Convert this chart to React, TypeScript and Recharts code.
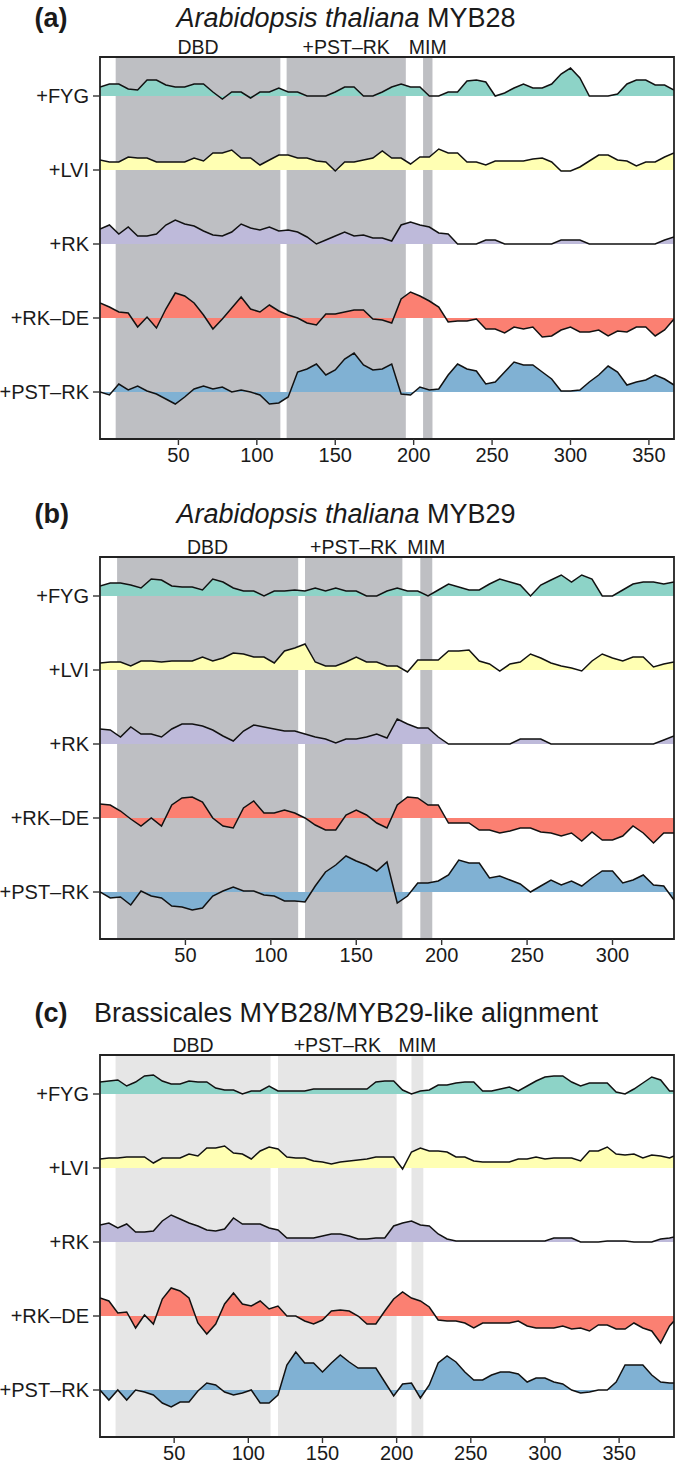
import { ComposedChart, Area, Line, XAxis, YAxis, ReferenceArea } from "recharts";

const FONT = '"Liberation Sans", Arial, Helvetica, sans-serif';
const TEXT = "#1a1a1a";

const TRACKS = ["+FYG", "+LVI", "+RK", "+RK–DE", "+PST–RK"];
const TRACK_COLORS = ["#8DD3C7", "#FFFFB3", "#BEBADA", "#FB8072", "#80B1D3"];
const TRACK_GAP = 74;
const BASELINES = [0, 74, 148, 222, 296];
const Y_DOMAIN: [number, number] = [-47, 335];

// (a) Arabidopsis thaliana MYB28
const POS_A = [0, 6, 12, 18, 24, 30, 36, 42, 48, 54, 60, 66, 72, 78, 84, 90, 96, 102, 108, 114, 120, 126, 132, 138, 144, 150, 156, 162, 168, 174, 180, 186, 192, 198, 204, 210, 216, 222, 228, 234, 240, 246, 252, 258, 264, 270, 276, 282, 288, 294, 300, 306, 312, 318, 324, 330, 336, 342, 348, 354, 360, 366];
const FYG_A = [9, 12, 12, 7, 6, 16, 16, 11, 9, 9, 12, 12, 4, -3, 4, 4, -2, 4, 4, 8, 4, 4, 0, 0, 0, 4, 9, 9, 0, 0, 4, 9, 12, 9, 9, 0, 0, 4, 4, 15, 16, 14, 0, 3, 8, 12, 8, 8, 12, 22, 28, 18, 0, 0, 0, 2, 12, 16, 16, 11, 11, 6];
const LVI_A = [10, 8, 8, 13, 12, 12, 8, 8, 8, 8, 12, 9, 17, 17, 20, 12, 12, 5, 10, 15, 15, 12, 12, 9, 8, -1, 8, 8, 10, 12, 19, 12, 12, 6, 13, 13, 21, 17, 17, 8, 8, 5, 9, 9, 9, 9, 11, 12, 8, -1, -1, 3, 9, 15, 15, 10, 9, 4, 8, 8, 13, 17];
const RK_A = [15, 19, 10, 17, 8, 8, 10, 19, 24, 20, 18, 13, 9, 8, 12, 20, 16, 14, 17, 13, 14, 12, 7, 0, 4, 8, 12, 8, 9, 6, 6, 3, 19, 22, 19, 17, 11, 10, 0, 0, 0, 4, 4, 0, 0, 0, 0, 0, 0, 4, 4, 4, 0, 0, 0, 0, 0, 0, 0, 0, 4, 7];
const RKDE_A = [15, 11, 6, 5, -9, 1, -10, 9, 25, 22, 15, 3, -11, -1, 10, 21, 9, 6, 13, 7, 3, 0, -5, -7, 4, 4, 6, 8, 8, -1, -2, -5, 19, 26, 22, 17, 11, -4, -3, -3, -1, -11, -11, -15, -9, -11, -9, -19, -18, -12, -9, -14, -14, -12, -18, -13, -14, -9, -9, -18, -12, -1];
const PST_A = [0, -3, 8, 2, 6, 1, -2, -7, -12, -5, 3, 6, 3, 5, 0, 2, 0, -3, -12, -11, -5, 20, 23, 28, 17, 22, 33, 39, 27, 22, 23, 28, -2, -3, 5, 2, 3, 17, 28, 23, 21, 8, 10, 20, 30, 27, 27, 20, 13, 1, 1, 2, 10, 17, 26, 20, 7, 10, 12, 17, 13, 7];
const TICKS_A = [50, 100, 150, 200, 250, 300, 350];
const REGIONS_A = [
  { name: "DBD", from: 10, to: 115 },
  { name: "+PST–RK", from: 119, to: 195 },
  { name: "MIM", from: 206, to: 212 },
];

// (b) Arabidopsis thaliana MYB29
const POS_B = [0, 6, 12, 18, 24, 30, 36, 42, 48, 54, 60, 66, 72, 78, 84, 90, 96, 102, 108, 114, 120, 126, 132, 138, 144, 150, 156, 162, 168, 174, 180, 186, 192, 198, 204, 210, 216, 222, 228, 234, 240, 246, 252, 258, 264, 270, 276, 282, 288, 294, 300, 306, 312, 318, 324, 330, 336];
const FYG_B = [10, 13, 13, 11, 8, 17, 16, 10, 9, 9, 6, 17, 14, 8, 5, 5, 0, 5, 5, 6, 5, 8, 5, 8, 5, 5, 0, 0, 5, 8, 5, 5, 0, 6, 12, 9, 6, 6, 12, 17, 14, 11, 0, 11, 16, 21, 14, 21, 17, 0, 0, 6, 12, 14, 14, 12, 14];
const LVI_B = [7, 8, 8, 4, 9, 9, 8, 9, 9, 9, 13, 9, 12, 17, 16, 13, 13, 7, 19, 22, 26, 8, 4, 4, 8, 13, 8, 8, 4, 4, -2, 10, 10, 10, 19, 19, 20, 9, 6, -1, 6, 8, 16, 12, 7, 4, 2, -1, 9, 16, 12, 9, 13, 13, 3, 6, 8];
const RK_B = [15, 14, 7, 17, 10, 10, 7, 15, 20, 20, 18, 14, 8, 3, 13, 19, 17, 15, 13, 13, 10, 7, 5, 1, 5, 5, 7, 10, 6, 25, 20, 16, 16, 7, 0, 0, 0, 0, 0, 0, 0, 5, 5, 5, 0, 0, 0, 0, 0, 0, 0, 0, 0, 0, 0, 4, 8];
const RKDE_B = [14, 13, 7, -1, -8, 0, -8, 13, 20, 21, 16, 0, -8, -10, 10, 17, 5, 5, 8, 5, 0, -7, -12, -12, 3, 8, 3, -5, -10, 13, 21, 20, 13, 13, -5, -5, -5, -12, -12, -15, -13, -10, -10, -14, -15, -18, -15, -23, -14, -22, -22, -18, -8, -15, -25, -15, -15];
const PST_B = [0, -6, -5, -13, 1, -4, -6, -14, -15, -18, -16, -4, 1, 5, 1, 1, -3, -4, -9, -9, -10, 6, 20, 27, 36, 31, 27, 21, 30, -11, -4, 9, 9, 11, 17, 32, 29, 29, 14, 16, 12, 8, 0, 6, 12, 7, 11, 6, 14, 21, 21, 9, 12, 17, 7, 6, -8];
const TICKS_B = [50, 100, 150, 200, 250, 300];
const REGIONS_B = [
  { name: "DBD", from: 10, to: 116 },
  { name: "+PST–RK", from: 120, to: 177 },
  { name: "MIM", from: 187.5, to: 194.5 },
];

// (c) Brassicales MYB28/MYB29-like alignment
const POS_C = [0, 6, 12, 18, 24, 30, 36, 42, 48, 54, 60, 66, 72, 78, 84, 90, 96, 102, 108, 114, 120, 126, 132, 138, 144, 150, 156, 162, 168, 174, 180, 186, 192, 198, 204, 210, 216, 222, 228, 234, 240, 246, 252, 258, 264, 270, 276, 282, 288, 294, 300, 306, 312, 318, 324, 330, 336, 342, 348, 354, 360, 366, 372, 378, 384, 387];
const FYG_C = [12, 13, 14, 8, 12, 18, 19, 13, 10, 10, 13, 12, 12, 6, 4, 4, 0, 3, 3, 8, 3, 3, 3, 3, 5, 5, 5, 5, 5, 5, 5, 12, 13, 13, 4, 0, 3, 4, 9, 9, 11, 12, 12, 3, 3, 5, 7, 3, 8, 13, 17, 18, 18, 12, 8, 11, 11, 11, 2, 0, 5, 11, 17, 14, 3, 3];
const LVI_C = [9, 10, 10, 11, 11, 11, 5, 10, 10, 10, 14, 12, 20, 20, 22, 15, 14, 9, 17, 21, 19, 11, 10, 10, 7, 6, 4, 6, 7, 8, 9, 11, 11, 11, -1, 16, 20, 17, 17, 16, 11, 11, 7, 6, 6, 6, 6, 9, 9, 11, 9, 10, 10, 10, 7, 17, 17, 21, 14, 13, 14, 10, 13, 12, 10, 12];
const RK_C = [17, 19, 14, 18, 10, 10, 11, 21, 27, 23, 19, 16, 12, 11, 13, 24, 18, 18, 18, 14, 12, 4, 4, 4, 4, 6, 8, 8, 6, 3, 3, 4, 4, 16, 19, 21, 17, 16, 8, 3, 1, 1, 1, 1, 1, 1, 1, 1, 1, 1, 1, 4, 4, 4, 0, 0, 0, 1, 1, 1, 0, 0, 0, 3, 4, 5];
const RKDE_C = [18, 15, 3, 4, -12, 1, -8, 17, 28, 25, 18, -7, -18, -8, 12, 23, 12, 10, 15, 7, 10, 0, 0, -5, -8, -4, 5, 6, 5, 0, -8, -8, 5, 17, 24, 18, 15, 9, -4, -5, -5, -7, -12, -7, -7, -7, -7, -5, -10, -12, -12, -12, -10, -13, -12, -15, -9, -9, -13, -13, -7, -12, -15, -27, -10, -5];
const PST_C = [0, -10, 0, -10, 0, -2, -5, -13, -17, -12, -12, -1, 7, 5, -2, -5, -3, 0, -13, -13, -5, 25, 38, 27, 27, 18, 27, 35, 28, 22, 22, 22, 8, -6, 6, 7, -8, 5, 27, 34, 28, 18, 10, 10, 15, 18, 18, 16, 8, 12, 12, 8, 6, 0, -3, -2, 0, 0, 8, 25, 25, 25, 15, 8, 7, 7];
const TICKS_C = [50, 100, 150, 200, 250, 300, 350];
const REGIONS_C = [
  { name: "DBD", from: 10.5, to: 115 },
  { name: "+PST–RK", from: 120, to: 200 },
  { name: "MIM", from: 210, to: 218 },
];

interface Region {
  name: string;
  from: number;
  to: number;
}

interface PanelProps {
  top: number;
  tag: string;
  titleItalic?: string;
  titleRest: string;
  titleBaseline: number;
  positions: number[];
  series: number[][];
  xMax: number;
  xTicks: number[];
  regions: Region[];
  regionFill: string;
}

// each track sits on its own baseline; the band runs from the baseline to the profile
function buildRows(positions: number[], series: number[][]) {
  return positions.map((pos, i) => {
    const row: Record<string, number | number[]> = { pos };
    series.forEach((values, k) => {
      const base = (TRACKS.length - 1 - k) * TRACK_GAP;
      row[`band${k}`] = [base, base + values[i]];
      row[`top${k}`] = base + values[i];
    });
    return row;
  });
}

function trackLabel(value: number): string {
  return TRACKS[TRACKS.length - 1 - Math.round(value / TRACK_GAP)] ?? "";
}

function ProfilePanel(p: PanelProps) {
  const rows = buildRows(p.positions, p.series);
  const tickStyle = { fontSize: 20, fill: TEXT, fontFamily: FONT };

  return (
    <div style={{ position: "absolute", left: 0, top: p.top, width: 676, height: 500 }}>
      <ComposedChart
        width={676}
        height={500}
        data={rows}
        margin={{ top: 57, right: 2, bottom: 31, left: 0 }}
      >
        <XAxis
          dataKey="pos"
          type="number"
          domain={[0, p.xMax]}
          ticks={p.xTicks}
          allowDataOverflow
          interval={0}
          height={30}
          axisLine={false}
          tickLine={{ stroke: "#333", strokeWidth: 1.4 }}
          tickSize={6}
          tickMargin={3}
          tick={tickStyle}
        />
        <YAxis
          type="number"
          domain={Y_DOMAIN}
          ticks={BASELINES}
          tickFormatter={trackLabel}
          allowDataOverflow
          interval={0}
          width={100}
          axisLine={false}
          tickLine={{ stroke: "#333", strokeWidth: 1.4 }}
          tickSize={7}
          tickMargin={4}
          tick={tickStyle}
        />
        {p.regions.map((r) => (
          <ReferenceArea
            key={r.name}
            x1={r.from}
            x2={r.to}
            fill={p.regionFill}
            fillOpacity={1}
            stroke="none"
            label={{ value: r.name, position: "top", offset: 3, fill: TEXT, fontSize: 19.5, fontFamily: FONT }}
          />
        ))}
        {TRACKS.map((name, k) => (
          <Area
            key={`band-${name}`}
            dataKey={`band${k}`}
            type="linear"
            stroke="none"
            fill={TRACK_COLORS[k]}
            fillOpacity={1}
            isAnimationActive={false}
          />
        ))}
        {TRACKS.map((name, k) => (
          <Line
            key={`line-${name}`}
            dataKey={`top${k}`}
            type="linear"
            stroke="#111"
            strokeWidth={1.5}
            dot={false}
            activeDot={false}
            isAnimationActive={false}
          />
        ))}
        <ReferenceArea
          x1={0}
          x2={p.xMax}
          y1={Y_DOMAIN[0]}
          y2={Y_DOMAIN[1]}
          fill="none"
          stroke="#222"
          strokeWidth={1.8}
        />
      </ComposedChart>
      <svg width={676} height={40} style={{ position: "absolute", left: 0, top: 0 }}>
        <text x={34.5} y={p.titleBaseline} fontFamily={FONT} fontSize={27} fontWeight="bold" fill={TEXT}>
          {p.tag}
        </text>
        <text x={346} y={p.titleBaseline} textAnchor="middle" fontFamily={FONT} fontSize={27} fill={TEXT}>
          {p.titleItalic && <tspan fontStyle="italic">{p.titleItalic}</tspan>}
          {p.titleRest}
        </text>
      </svg>
    </div>
  );
}

export default function App() {
  return (
    <div style={{ position: "absolute", left: 0, top: 0, width: 676, height: 1466, background: "#fff" }}>
      <ProfilePanel
        top={0}
        tag="(a)"
        titleItalic="Arabidopsis thaliana"
        titleRest=" MYB28"
        titleBaseline={27}
        positions={POS_A}
        series={[FYG_A, LVI_A, RK_A, RKDE_A, PST_A]}
        xMax={366}
        xTicks={TICKS_A}
        regions={REGIONS_A}
        regionFill="#BEBFC3"
      />
      <ProfilePanel
        top={500}
        tag="(b)"
        titleItalic="Arabidopsis thaliana"
        titleRest=" MYB29"
        titleBaseline={23}
        positions={POS_B}
        series={[FYG_B, LVI_B, RK_B, RKDE_B, PST_B]}
        xMax={336}
        xTicks={TICKS_B}
        regions={REGIONS_B}
        regionFill="#BEBFC3"
      />
      <ProfilePanel
        top={998}
        tag="(c)"
        titleRest="Brassicales MYB28/MYB29-like alignment"
        titleBaseline={24}
        positions={POS_C}
        series={[FYG_C, LVI_C, RK_C, RKDE_C, PST_C]}
        xMax={387}
        xTicks={TICKS_C}
        regions={REGIONS_C}
        regionFill="#E6E6E6"
      />
    </div>
  );
}
